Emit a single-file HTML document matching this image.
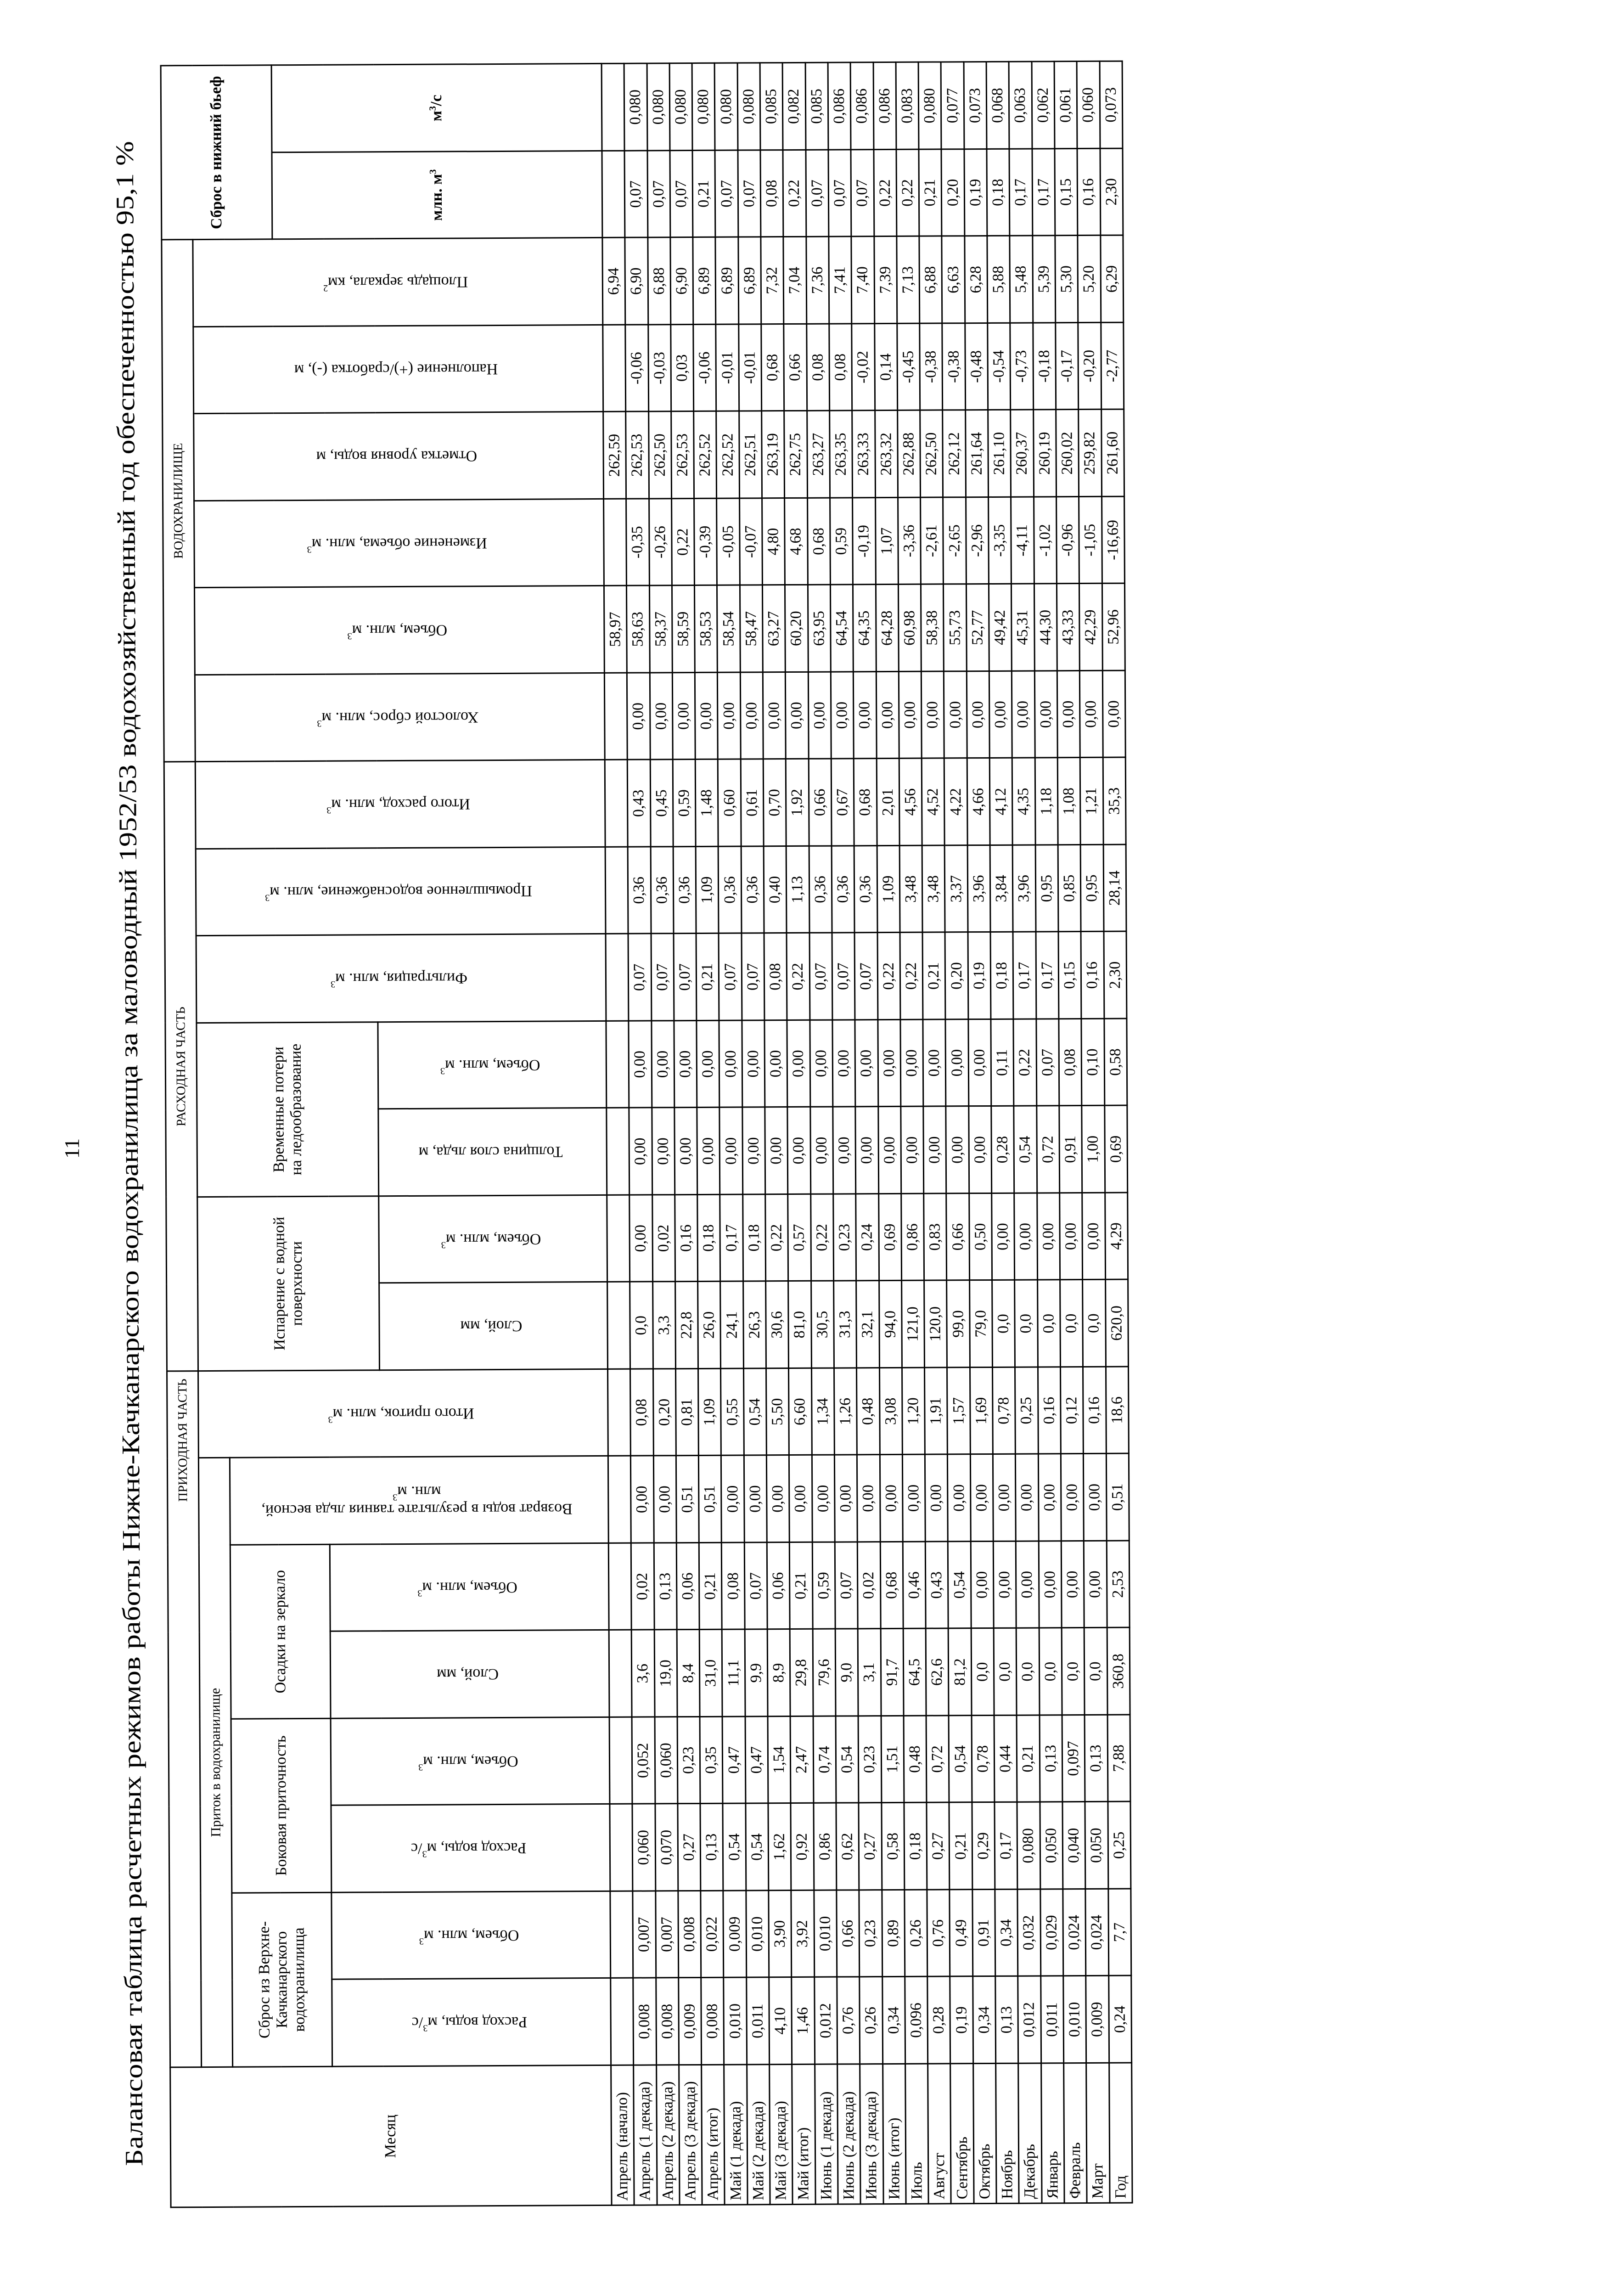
<!DOCTYPE html>
<html><head><meta charset="utf-8">
<style>
html,body{margin:0;padding:0;background:#fff;overflow:hidden;width:3513px;height:5040px;}
body{position:relative;}
#wrap{position:absolute;left:-947.5px;top:1403px;width:4707px;height:2094px;transform:rotate(-90.27deg);transform-origin:50% 50%;}
table{border-collapse:collapse;table-layout:fixed;width:4663.5px;font-family:"Liberation Serif","Noto Serif CJK SC",serif;font-size:34px;color:#000;}
td{border:3px solid #000;padding:0;text-align:center;vertical-align:middle;overflow:hidden;line-height:1.12;}
.v div{writing-mode:vertical-rl;transform:rotate(180deg);display:inline-block;line-height:1.15;}
.b{font-weight:bold;}
.m{text-align:left;padding-left:8px;white-space:nowrap;}
tr.d{height:49.3px;}
sup{font-size:60%;line-height:0;}
svg{position:absolute;left:0;top:0;}
</style></head>
<body>
<svg width="3513" height="5040" xmlns="http://www.w3.org/2000/svg">
<text x="300" y="2512" transform="rotate(-90.27 300 2512)" text-anchor="middle" style="font-family:'Liberation Serif',serif" font-size="55" textLength="4410" lengthAdjust="spacingAndGlyphs">Балансовая таблица расчетных режимов работы Нижне-Качканарского водохранилища за маловодный 1952/53 водохозяйственный год обеспеченностью 95,1 %</text>
<text x="172" y="2501" transform="rotate(-90 172 2501)" text-anchor="middle" style="font-family:'Liberation Serif',serif" font-size="46">11</text>
</svg>
<div id="wrap">
<table>
<colgroup><col style="width:305px">
<col style="width:189.5px"><col style="width:189.5px"><col style="width:189.5px"><col style="width:189.5px"><col style="width:189.5px"><col style="width:189.5px"><col style="width:189.5px"><col style="width:189.5px"><col style="width:189.5px"><col style="width:189.5px"><col style="width:189.5px"><col style="width:189.5px"><col style="width:189.5px"><col style="width:189.5px"><col style="width:189.5px"><col style="width:189.5px"><col style="width:189.5px"><col style="width:189.5px"><col style="width:189.5px"><col style="width:189.5px"><col style="width:189.5px"><col style="width:189.5px"><col style="width:189.5px">
</colgroup>
<tr style="height:68px">
<td rowspan="6">Месяц</td>
<td colspan="8" style="font-size:28px;text-align:left;padding-left:1230px;white-space:nowrap">ПРИХОДНАЯ ЧАСТЬ</td>
<td colspan="7" style="font-size:28px">РАСХОДНАЯ ЧАСТЬ</td>
<td colspan="6" style="font-size:28px">ВОДОХРАНИЛИЩЕ</td>
<td colspan="2" rowspan="3" class="b" style="font-size:34px">Сброс в нижний бьеф</td>
</tr>
<tr style="height:68px">
<td colspan="7" style="font-size:30px">Приток в водохранилище</td>
<td rowspan="5" class="v"><div>Итого приток, млн. м<sup>3</sup></div></td>
<td colspan="2" rowspan="4">Испарение с водной<br>поверхности</td>
<td colspan="2" rowspan="4">Временные потери<br>на ледообразование</td>
<td rowspan="5" class="v"><div>Фильтрация, млн. м<sup>3</sup></div></td>
<td rowspan="5" class="v"><div>Промышленное водоснабжение, млн. м<sup>3</sup></div></td>
<td rowspan="5" class="v"><div>Итого расход, млн. м<sup>3</sup></div></td>
<td rowspan="5" class="v"><div>Холостой сброс, млн. м<sup>3</sup></div></td>
<td rowspan="5" class="v"><div>Объем, млн. м<sup>3</sup></div></td>
<td rowspan="5" class="v"><div>Изменение объема, млн. м<sup>3</sup></div></td>
<td rowspan="5" class="v"><div>Отметка уровня воды, м</div></td>
<td rowspan="5" class="v"><div>Наполнение (+)/сработка (-), м</div></td>
<td rowspan="5" class="v"><div>Площадь зеркала, км<sup>2</sup></div></td>
</tr>
<tr style="height:105px">
<td colspan="2" rowspan="2">Сброс из Верхне-<br>Качканарского<br>водохранилища</td>
<td colspan="2" rowspan="2">Боковая приточность</td>
<td colspan="2" rowspan="2">Осадки на зеркало</td>
<td rowspan="4" class="v"><div>Возврат воды в результате таяния льда весной,<br>млн. м<sup>3</sup></div></td>
</tr>
<tr style="height:112px">
<td rowspan="3" class="b">млн. м<sup>3</sup></td>
<td rowspan="3" class="b">м<sup>3</sup>/с</td>
</tr>
<tr style="height:110px">
<td rowspan="2" class="v"><div>Расход воды, м<sup>3</sup>/с</div></td>
<td rowspan="2" class="v"><div>Объем, млн. м<sup>3</sup></div></td>
<td rowspan="2" class="v"><div>Расход воды, м<sup>3</sup>/с</div></td>
<td rowspan="2" class="v"><div>Объем, млн. м<sup>3</sup></div></td>
<td rowspan="2" class="v"><div>Слой, мм</div></td>
<td rowspan="2" class="v"><div>Объем, млн. м<sup>3</sup></div></td>
</tr>
<tr style="height:497px">
<td class="v"><div>Слой, мм</div></td>
<td class="v"><div>Объем, млн. м<sup>3</sup></div></td>
<td class="v"><div>Толщина слоя льда, м</div></td>
<td class="v"><div>Объем, млн. м<sup>3</sup></div></td>
</tr>
<tr class="d"><td class="m">Апрель (начало)</td><td></td><td></td><td></td><td></td><td></td><td></td><td></td><td></td><td></td><td></td><td></td><td></td><td></td><td></td><td></td><td></td><td>58,97</td><td></td><td>262,59</td><td></td><td>6,94</td><td></td><td></td></tr>
<tr class="d"><td class="m">Апрель (1 декада)</td><td>0,008</td><td>0,007</td><td>0,060</td><td>0,052</td><td>3,6</td><td>0,02</td><td>0,00</td><td>0,08</td><td>0,0</td><td>0,00</td><td>0,00</td><td>0,00</td><td>0,07</td><td>0,36</td><td>0,43</td><td>0,00</td><td>58,63</td><td>-0,35</td><td>262,53</td><td>-0,06</td><td>6,90</td><td>0,07</td><td>0,080</td></tr>
<tr class="d"><td class="m">Апрель (2 декада)</td><td>0,008</td><td>0,007</td><td>0,070</td><td>0,060</td><td>19,0</td><td>0,13</td><td>0,00</td><td>0,20</td><td>3,3</td><td>0,02</td><td>0,00</td><td>0,00</td><td>0,07</td><td>0,36</td><td>0,45</td><td>0,00</td><td>58,37</td><td>-0,26</td><td>262,50</td><td>-0,03</td><td>6,88</td><td>0,07</td><td>0,080</td></tr>
<tr class="d"><td class="m">Апрель (3 декада)</td><td>0,009</td><td>0,008</td><td>0,27</td><td>0,23</td><td>8,4</td><td>0,06</td><td>0,51</td><td>0,81</td><td>22,8</td><td>0,16</td><td>0,00</td><td>0,00</td><td>0,07</td><td>0,36</td><td>0,59</td><td>0,00</td><td>58,59</td><td>0,22</td><td>262,53</td><td>0,03</td><td>6,90</td><td>0,07</td><td>0,080</td></tr>
<tr class="d"><td class="m">Апрель (итог)</td><td>0,008</td><td>0,022</td><td>0,13</td><td>0,35</td><td>31,0</td><td>0,21</td><td>0,51</td><td>1,09</td><td>26,0</td><td>0,18</td><td>0,00</td><td>0,00</td><td>0,21</td><td>1,09</td><td>1,48</td><td>0,00</td><td>58,53</td><td>-0,39</td><td>262,52</td><td>-0,06</td><td>6,89</td><td>0,21</td><td>0,080</td></tr>
<tr class="d"><td class="m">Май (1 декада)</td><td>0,010</td><td>0,009</td><td>0,54</td><td>0,47</td><td>11,1</td><td>0,08</td><td>0,00</td><td>0,55</td><td>24,1</td><td>0,17</td><td>0,00</td><td>0,00</td><td>0,07</td><td>0,36</td><td>0,60</td><td>0,00</td><td>58,54</td><td>-0,05</td><td>262,52</td><td>-0,01</td><td>6,89</td><td>0,07</td><td>0,080</td></tr>
<tr class="d"><td class="m">Май (2 декада)</td><td>0,011</td><td>0,010</td><td>0,54</td><td>0,47</td><td>9,9</td><td>0,07</td><td>0,00</td><td>0,54</td><td>26,3</td><td>0,18</td><td>0,00</td><td>0,00</td><td>0,07</td><td>0,36</td><td>0,61</td><td>0,00</td><td>58,47</td><td>-0,07</td><td>262,51</td><td>-0,01</td><td>6,89</td><td>0,07</td><td>0,080</td></tr>
<tr class="d"><td class="m">Май (3 декада)</td><td>4,10</td><td>3,90</td><td>1,62</td><td>1,54</td><td>8,9</td><td>0,06</td><td>0,00</td><td>5,50</td><td>30,6</td><td>0,22</td><td>0,00</td><td>0,00</td><td>0,08</td><td>0,40</td><td>0,70</td><td>0,00</td><td>63,27</td><td>4,80</td><td>263,19</td><td>0,68</td><td>7,32</td><td>0,08</td><td>0,085</td></tr>
<tr class="d"><td class="m">Май (итог)</td><td>1,46</td><td>3,92</td><td>0,92</td><td>2,47</td><td>29,8</td><td>0,21</td><td>0,00</td><td>6,60</td><td>81,0</td><td>0,57</td><td>0,00</td><td>0,00</td><td>0,22</td><td>1,13</td><td>1,92</td><td>0,00</td><td>60,20</td><td>4,68</td><td>262,75</td><td>0,66</td><td>7,04</td><td>0,22</td><td>0,082</td></tr>
<tr class="d"><td class="m">Июнь (1 декада)</td><td>0,012</td><td>0,010</td><td>0,86</td><td>0,74</td><td>79,6</td><td>0,59</td><td>0,00</td><td>1,34</td><td>30,5</td><td>0,22</td><td>0,00</td><td>0,00</td><td>0,07</td><td>0,36</td><td>0,66</td><td>0,00</td><td>63,95</td><td>0,68</td><td>263,27</td><td>0,08</td><td>7,36</td><td>0,07</td><td>0,085</td></tr>
<tr class="d"><td class="m">Июнь (2 декада)</td><td>0,76</td><td>0,66</td><td>0,62</td><td>0,54</td><td>9,0</td><td>0,07</td><td>0,00</td><td>1,26</td><td>31,3</td><td>0,23</td><td>0,00</td><td>0,00</td><td>0,07</td><td>0,36</td><td>0,67</td><td>0,00</td><td>64,54</td><td>0,59</td><td>263,35</td><td>0,08</td><td>7,41</td><td>0,07</td><td>0,086</td></tr>
<tr class="d"><td class="m">Июнь (3 декада)</td><td>0,26</td><td>0,23</td><td>0,27</td><td>0,23</td><td>3,1</td><td>0,02</td><td>0,00</td><td>0,48</td><td>32,1</td><td>0,24</td><td>0,00</td><td>0,00</td><td>0,07</td><td>0,36</td><td>0,68</td><td>0,00</td><td>64,35</td><td>-0,19</td><td>263,33</td><td>-0,02</td><td>7,40</td><td>0,07</td><td>0,086</td></tr>
<tr class="d"><td class="m">Июнь (итог)</td><td>0,34</td><td>0,89</td><td>0,58</td><td>1,51</td><td>91,7</td><td>0,68</td><td>0,00</td><td>3,08</td><td>94,0</td><td>0,69</td><td>0,00</td><td>0,00</td><td>0,22</td><td>1,09</td><td>2,01</td><td>0,00</td><td>64,28</td><td>1,07</td><td>263,32</td><td>0,14</td><td>7,39</td><td>0,22</td><td>0,086</td></tr>
<tr class="d"><td class="m">Июль</td><td>0,096</td><td>0,26</td><td>0,18</td><td>0,48</td><td>64,5</td><td>0,46</td><td>0,00</td><td>1,20</td><td>121,0</td><td>0,86</td><td>0,00</td><td>0,00</td><td>0,22</td><td>3,48</td><td>4,56</td><td>0,00</td><td>60,98</td><td>-3,36</td><td>262,88</td><td>-0,45</td><td>7,13</td><td>0,22</td><td>0,083</td></tr>
<tr class="d"><td class="m">Август</td><td>0,28</td><td>0,76</td><td>0,27</td><td>0,72</td><td>62,6</td><td>0,43</td><td>0,00</td><td>1,91</td><td>120,0</td><td>0,83</td><td>0,00</td><td>0,00</td><td>0,21</td><td>3,48</td><td>4,52</td><td>0,00</td><td>58,38</td><td>-2,61</td><td>262,50</td><td>-0,38</td><td>6,88</td><td>0,21</td><td>0,080</td></tr>
<tr class="d"><td class="m">Сентябрь</td><td>0,19</td><td>0,49</td><td>0,21</td><td>0,54</td><td>81,2</td><td>0,54</td><td>0,00</td><td>1,57</td><td>99,0</td><td>0,66</td><td>0,00</td><td>0,00</td><td>0,20</td><td>3,37</td><td>4,22</td><td>0,00</td><td>55,73</td><td>-2,65</td><td>262,12</td><td>-0,38</td><td>6,63</td><td>0,20</td><td>0,077</td></tr>
<tr class="d"><td class="m">Октябрь</td><td>0,34</td><td>0,91</td><td>0,29</td><td>0,78</td><td>0,0</td><td>0,00</td><td>0,00</td><td>1,69</td><td>79,0</td><td>0,50</td><td>0,00</td><td>0,00</td><td>0,19</td><td>3,96</td><td>4,66</td><td>0,00</td><td>52,77</td><td>-2,96</td><td>261,64</td><td>-0,48</td><td>6,28</td><td>0,19</td><td>0,073</td></tr>
<tr class="d"><td class="m">Ноябрь</td><td>0,13</td><td>0,34</td><td>0,17</td><td>0,44</td><td>0,0</td><td>0,00</td><td>0,00</td><td>0,78</td><td>0,0</td><td>0,00</td><td>0,28</td><td>0,11</td><td>0,18</td><td>3,84</td><td>4,12</td><td>0,00</td><td>49,42</td><td>-3,35</td><td>261,10</td><td>-0,54</td><td>5,88</td><td>0,18</td><td>0,068</td></tr>
<tr class="d"><td class="m">Декабрь</td><td>0,012</td><td>0,032</td><td>0,080</td><td>0,21</td><td>0,0</td><td>0,00</td><td>0,00</td><td>0,25</td><td>0,0</td><td>0,00</td><td>0,54</td><td>0,22</td><td>0,17</td><td>3,96</td><td>4,35</td><td>0,00</td><td>45,31</td><td>-4,11</td><td>260,37</td><td>-0,73</td><td>5,48</td><td>0,17</td><td>0,063</td></tr>
<tr class="d"><td class="m">Январь</td><td>0,011</td><td>0,029</td><td>0,050</td><td>0,13</td><td>0,0</td><td>0,00</td><td>0,00</td><td>0,16</td><td>0,0</td><td>0,00</td><td>0,72</td><td>0,07</td><td>0,17</td><td>0,95</td><td>1,18</td><td>0,00</td><td>44,30</td><td>-1,02</td><td>260,19</td><td>-0,18</td><td>5,39</td><td>0,17</td><td>0,062</td></tr>
<tr class="d"><td class="m">Февраль</td><td>0,010</td><td>0,024</td><td>0,040</td><td>0,097</td><td>0,0</td><td>0,00</td><td>0,00</td><td>0,12</td><td>0,0</td><td>0,00</td><td>0,91</td><td>0,08</td><td>0,15</td><td>0,85</td><td>1,08</td><td>0,00</td><td>43,33</td><td>-0,96</td><td>260,02</td><td>-0,17</td><td>5,30</td><td>0,15</td><td>0,061</td></tr>
<tr class="d"><td class="m">Март</td><td>0,009</td><td>0,024</td><td>0,050</td><td>0,13</td><td>0,0</td><td>0,00</td><td>0,00</td><td>0,16</td><td>0,0</td><td>0,00</td><td>1,00</td><td>0,10</td><td>0,16</td><td>0,95</td><td>1,21</td><td>0,00</td><td>42,29</td><td>-1,05</td><td>259,82</td><td>-0,20</td><td>5,20</td><td>0,16</td><td>0,060</td></tr>
<tr class="d"><td class="m">Год</td><td>0,24</td><td>7,7</td><td>0,25</td><td>7,88</td><td>360,8</td><td>2,53</td><td>0,51</td><td>18,6</td><td>620,0</td><td>4,29</td><td>0,69</td><td>0,58</td><td>2,30</td><td>28,14</td><td>35,3</td><td>0,00</td><td>52,96</td><td>-16,69</td><td>261,60</td><td>-2,77</td><td>6,29</td><td>2,30</td><td>0,073</td></tr>
</table>
</div>
</body></html>
